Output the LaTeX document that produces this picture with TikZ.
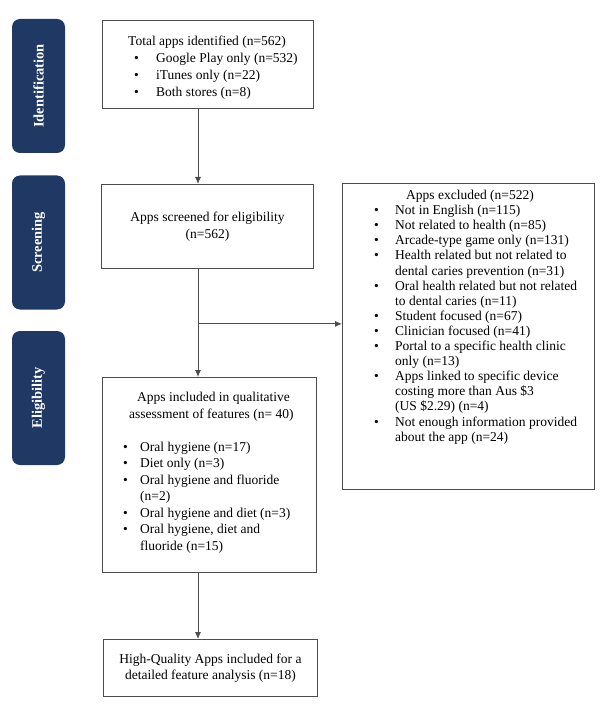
\documentclass[tikz,border=0pt]{standalone}
\usepackage{fontspec}
\setmainfont{Liberation Serif}
\usetikzlibrary{arrows.meta,positioning,calc}

\definecolor{stagenavy}{RGB}{31,56,100}
\newcommand{\bul}[1]{\makebox[#1][l]{\textbullet}}

\begin{document}
\begin{tikzpicture}[
    x=1pt, y=-1pt, % pixel grid of the figure
    >={Latex[length=7pt,width=6pt]},
    % styles
    stage/.style={
        fill=stagenavy,
        rounded corners=8pt,
        rotate=90,
        minimum width=134pt,
        minimum height=53pt,
        inner sep=0pt,
        text=white,
        font=\fontsize{14.5}{16}\selectfont\bfseries
    },
    frame/.style={
        draw=black!70,
        line width=0.9pt,
        inner sep=0pt,
        align=center,
        anchor=north west,
        font=\fontsize{13.5}{16.5}\selectfont
    },
    listtext/.style={
        inner sep=0pt,
        align=left,
        font=\fontsize{13.5}{16.5}\selectfont
    },
    link/.style={draw=black!70, line width=0.9pt}
]
    \useasboundingbox (0,0) rectangle (605,708);

    % --- 1. Stages (Left) ---
    \node[stage] (identstage) at (38.5,86) {Identification};
    \node[stage] (screenstage) at (38.5,242.5) {Screening};
    \node[stage] (eligstage) at (38.5,398) {Eligibility};

    % --- 2. Identification ---
    \node[frame, minimum width=211pt, minimum height=88pt] (total) at (102,20) {};
    \node[listtext, font=\fontsize{13.5}{16.8}\selectfont, below right=16pt and 26pt of total.north west] (totaltext) {
        Total apps identified (n=562)\\
        \hspace*{6pt}\bul{22pt}Google Play only (n=532)\\
        \hspace*{6pt}\bul{22pt}iTunes only (n=22)\\
        \hspace*{6pt}\bul{22pt}Both stores (n=8)
    };

    % --- 3. Screening ---
    \node[frame, minimum width=212pt, minimum height=84pt] (screened) at (101,184) {
        Apps screened for eligibility\\
        (n=562)
    };

    % excluded box, text sits at the top
    \node[frame, minimum width=252pt, minimum height=306pt] (excluded) at (342,183) {};
    \node[listtext, font=\fontsize{13.5}{15.1}\selectfont, below right=7pt and 32pt of excluded.north west] (excludedtext) {
        \hspace*{32pt}Apps excluded (n=522)\\
        \bul{21pt}Not in English (n=115)\\
        \bul{21pt}Not related to health (n=85)\\
        \bul{21pt}Arcade-type game only (n=131)\\
        \bul{21pt}Health related but not related to\\
        \hspace*{21pt}dental caries prevention (n=31)\\
        \bul{21pt}Oral health related but not related\\
        \hspace*{21pt}to dental caries (n=11)\\
        \bul{21pt}Student focused (n=67)\\
        \bul{21pt}Clinician focused (n=41)\\
        \bul{21pt}Portal to a specific health clinic\\
        \hspace*{21pt}only (n=13)\\
        \bul{21pt}Apps linked to specific device\\
        \hspace*{21pt}costing more than Aus \$3\\
        \hspace*{21pt}(US \$2.29) (n=4)\\
        \bul{21pt}Not enough information provided\\
        \hspace*{21pt}about the app (n=24)
    };

    % --- 4. Eligibility ---
    \node[frame, minimum width=214pt, minimum height=195pt] (included) at (102,377) {};
    \node[listtext, below right=15pt and 21pt of included.north west] (includedtext) {
        \hspace*{14pt}Apps included in qualitative\\
        \hspace*{6pt}assessment of features (n= 40)\\[16.5pt]
        \bul{17pt}Oral hygiene (n=17)\\
        \bul{17pt}Diet only (n=3)\\
        \bul{17pt}Oral hygiene and fluoride\\
        \hspace*{17pt}(n=2)\\
        \bul{17pt}Oral hygiene and diet (n=3)\\
        \bul{17pt}Oral hygiene, diet and\\
        \hspace*{17pt}fluoride (n=15)
    };

    % --- 5. High quality apps ---
    \node[frame, minimum width=214pt, minimum height=57pt] (quality) at (103,639) {
        High-Quality Apps included for a\\
        detailed feature analysis (n=18)
    };

    % --- 6. Arrows ---
    % all vertical arrows run on one line, a bit left of the box centres
    \coordinate (spine) at (198,0);
    \draw[link, ->] (total.south -| spine) -- (screened.north -| spine);
    \coordinate (split) at ($(screened.south -| spine)+(0,55)$);
    \draw[link] (screened.south -| spine) -- (split);
    \draw[link, ->] (split) -- (split -| excluded.west);
    \draw[link, ->] (split) -- (included.north -| spine);
    \draw[link, ->] (included.south -| spine) -- (quality.north -| spine);

\end{tikzpicture}
\end{document}
